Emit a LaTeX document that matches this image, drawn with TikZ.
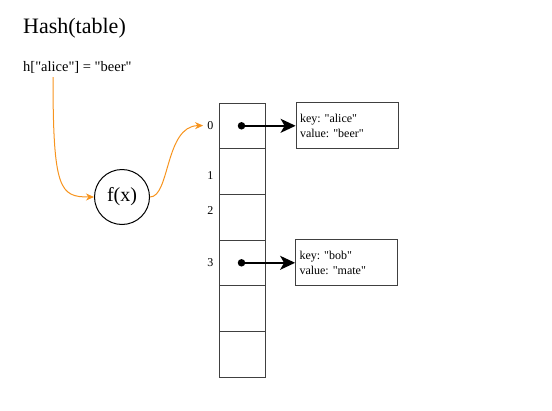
\documentclass[tikz,border=0pt]{standalone}
\usepackage{fontspec}
\setmainfont{Liberation Serif}[Ligatures=TeXOff]
\usetikzlibrary{arrows.meta,positioning}
\definecolor{hashorange}{RGB}{247,148,30}
\definecolor{cellgray}{RGB}{64,64,64}
\frenchspacing

\begin{document}
\begin{tikzpicture}[
  x=1pt, y=-1pt,
  cell/.style={draw=cellgray, line width=0.8pt, minimum width=46pt,
               minimum height=45.7pt, inner sep=0pt},
  idx/.style={anchor=east, inner sep=0pt, font=\fontsize{12}{14}\selectfont},
  entry/.style={draw=cellgray, line width=0.8pt, minimum width=102pt,
                minimum height=46pt, text width=94pt, align=left, inner sep=4pt,
                font=\fontsize{12}{14.5}\selectfont},
  dot/.style={circle, fill, inner sep=0pt, minimum size=7.5pt},
  hasharr/.style={-{Stealth[length=8pt, width=7pt, inset=2.5pt]},
                  hashorange, line width=1pt},
  ptr/.style={-{Stealth[length=15pt, width=14pt, inset=4pt]}, line width=1.5pt},
]
\useasboundingbox (0,0) rectangle (552,410);

\node[anchor=base west, inner sep=0pt, font=\fontsize{22}{26}\selectfont]
  (title) at (23,33) {Hash(table)};
\node[anchor=base west, inner sep=0pt, font=\fontsize{14.5}{17}\selectfont]
  (expr) at (23,71.5) {h["alice"] = "beer"};
\coordinate (src) at (53,77);

\node[draw, circle, line width=1pt, minimum size=55pt, inner sep=0pt,
  font=\fontsize{20}{24}\selectfont] (fx) at (122,197) {f(x)};

\foreach \i in {0,...,5}
  \node[cell] (c\i) at (242,125.8+45.7*\i) {};
\foreach \i/\y in {0/125.5,1/176,2/211,3/263}
  \node[idx] (i\i) at (213.5,\y) {\i};

\node[dot] (d0) at (241.5,125.8) {};
\node[dot] (d3) at (241.5,262.8) {};
\node[entry] (alice) at (347,125.8) {key: "alice"\\value: "beer"};
\node[entry] (bob) at (346.5,262.8) {key: "bob"\\value: "mate"};

\draw[hasharr] (src) .. controls (53,190) and (60,197) .. (fx.west);
\draw[hasharr, shorten >=4pt] (fx.east) .. controls (170,197) and (165,126) .. (i0.west);
\draw[ptr] (d0.center) -- (alice.west);
\draw[ptr] (d3.center) -- (bob.west);
\end{tikzpicture}
\end{document}
